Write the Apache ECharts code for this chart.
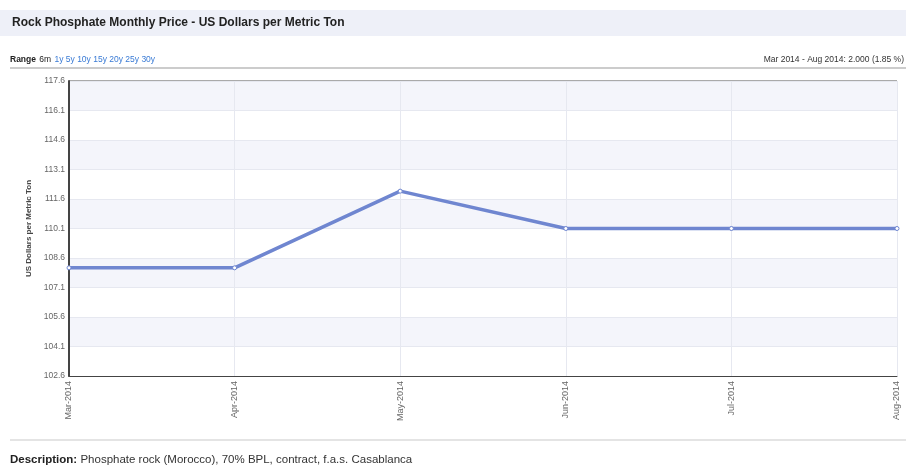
<!DOCTYPE html>
<html><head><meta charset="utf-8">
<script src="https://cdn.jsdelivr.net/npm/echarts@6/dist/echarts.min.js"></script>
<style>html,body{margin:0;padding:0;background:#fff}#c{width:906px;height:466px}</style>
</head><body><div id="c"></div>
<script>
const categories = ['Mar-2014','Apr-2014','May-2014','Jun-2014','Jul-2014','Aug-2014'];
const prices = [108.1, 108.1, 112.0, 110.1, 110.1, 110.1];
const yMin = 102.6, yMax = 117.6, yStep = 1.5;
const titleText = 'Rock Phosphate Monthly Price - US Dollars per Metric Ton';
const rangeLinks = '1y 5y 10y 15y 20y 25y 30y';
const changeText = 'Mar 2014 - Aug 2014: 2.000 (1.85 %)';
const descLabel = 'Description:';
const descText = 'Phosphate rock (Morocco), 70% BPL, contract, f.a.s. Casablanca';

const chart = echarts.init(document.getElementById('c'));
const F = '"Liberation Sans", Arial, sans-serif';
chart.setOption({
  animation: false,
  textStyle: {fontFamily: F},
  graphic: [
    {type:'rect', shape:{x:0,y:10,width:906,height:26}, style:{fill:'#eef0f8'}, silent:true},
    {type:'text', x:12, y:23, style:{text:titleText, font:'bold 12px '+F, fill:'#222', textVerticalAlign:'middle'}},
    {type:'text', x:10, y:60, style:{rich:{b:{font:'bold 8.5px '+F, fill:'#222'}, n:{font:'8.5px '+F, fill:'#222'}, l:{font:'8.5px '+F, fill:'#3a7bd5'}}, text:'{b|Range} {n|6m} {l|'+rangeLinks+'}', textVerticalAlign:'middle'}},
    {type:'text', right:2, y:55, style:{text:changeText, font:'8.5px '+F, fill:'#333'}},
    {type:'line', shape:{x1:10,y1:68,x2:906,y2:68}, style:{stroke:'#999', lineWidth:1}},
    {type:'line', shape:{x1:10,y1:440,x2:906,y2:440}, style:{stroke:'#e4e4e4', lineWidth:2}},
    {type:'text', x:10, y:460, style:{rich:{b:{font:'bold 11.5px '+F, fill:'#222'}, n:{font:'11.5px '+F, fill:'#333'}}, text:'{b|'+descLabel+'} {n|'+descText+'}', textVerticalAlign:'middle'}}
  ],
  grid: {left:69, right:9, top:81, bottom:90, show:true, borderColor:'#555', borderWidth:1, backgroundColor:'transparent'},
  xAxis: {
    type:'category', data:categories, boundaryGap:false,
    axisLine:{lineStyle:{color:'#444', width:1}},
    axisTick:{show:false},
    axisLabel:{rotate:90, fontSize:9, color:'#666', margin:5},
    splitLine:{show:true, lineStyle:{color:'#e6e8f0'}}
  },
  yAxis: {
    type:'value', min:yMin, max:yMax, interval:yStep,
    name:'US Dollars per Metric Ton', nameLocation:'middle', nameGap:35,
    nameTextStyle:{fontSize:8, fontWeight:'bold', color:'#444'},
    axisLine:{show:true, lineStyle:{color:'#444', width:2}},
    axisTick:{show:false},
    axisLabel:{fontSize:8.5, color:'#666', margin:4, formatter:v=>v.toFixed(1)},
    splitLine:{show:true, lineStyle:{color:'#e6e8f0'}},
    splitArea:{show:true, areaStyle:{color:['#ffffff','#f4f5fb']}}
  },
  series: [{
    type:'line', data:prices,
    lineStyle:{color:'#6f86d0', width:3.5},
    itemStyle:{color:'#ffffff', borderColor:'#6f86d0', borderWidth:1},
    symbol:'circle', symbolSize:4, showSymbol:true
  }]
});
</script></body></html>
